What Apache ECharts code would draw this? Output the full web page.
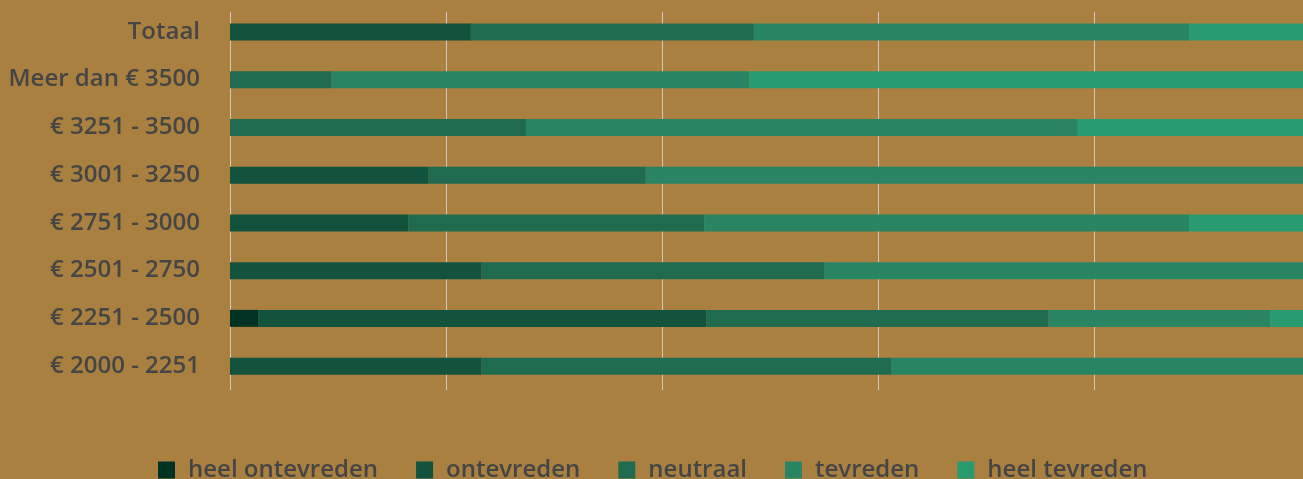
<!DOCTYPE html>
<html>
<head>
<meta charset="utf-8">
<script src="https://cdn.jsdelivr.net/npm/echarts@6/dist/echarts.min.js"></script>
<style>
  html, body { margin: 0; padding: 0; background: #a98040; }
  #chart { width: 1303px; height: 479px; }
</style>
</head>
<body>
<div id="chart"></div>
<script>
// categories, bottom to top (category axis runs upwards)
const categories = [
  '€ 2000 - 2251',
  '€ 2251 - 2500',
  '€ 2501 - 2750',
  '€ 2751 - 3000',
  '€ 3001 - 3250',
  '€ 3251 - 3500',
  'Meer dan € 3500',
  'Totaal',
]

const seriesNames = ['heel ontevreden', 'ontevreden', 'neutraal', 'tevreden', 'heel tevreden']

// percentages per category (same order as categories)
const heelOntevreden = [0, 2.6, 0, 0, 0, 0, 0, 0]
const ontevreden = [23.3, 41.5, 23.3, 16.5, 18.4, 0, 0, 22.3]
const neutraal = [37.9, 31.7, 31.7, 27.4, 20.1, 27.4, 9.4, 26.2]
const tevreden = [38.8, 20.5, 45.0, 44.9, 61.5, 51.1, 38.7, 40.3]
const heelTevreden = [0, 3.7, 0, 11.2, 0, 21.5, 51.9, 11.2]

// the original plot runs slightly past the right edge: 100% falls ~7px outside
const xMin = 0
const xStep = 20
const xVisibleMax = 99.35

const colors = ['#003223', '#13523d', '#206b4f', '#288462', '#2a9b70']

const values = [heelOntevreden, ontevreden, neutraal, tevreden, heelTevreden]

const chart = echarts.init(document.getElementById('chart'))

chart.setOption({
  backgroundColor: '#a98040',
  animation: false,
  color: colors,
  textStyle: { fontFamily: '"Open Sans", sans-serif' },
  grid: [
    // bars
    { left: 230, top: 8, right: 0, height: 382 },
    // vertical grid lines only
    { left: 230, top: 12, right: 0, height: 378 },
  ],
  legend: {
    data: seriesNames,
    left: 153,
    top: 453,
    itemWidth: 17,
    itemHeight: 17,
    itemGap: 38,
    icon: 'rect',
    textStyle: {
      color: '#454545',
      fontSize: 24,
      fontWeight: 600,
      padding: [0, 0, 0, 8],
    },
  },
  xAxis: [
    {
      gridIndex: 0,
      type: 'value',
      min: xMin,
      max: xVisibleMax,
      interval: xStep,
      axisLine: { show: false },
      axisTick: { show: false },
      axisLabel: { show: false },
      splitLine: { show: false },
    },
    {
      gridIndex: 1,
      type: 'value',
      min: xMin,
      max: xVisibleMax,
      interval: xStep,
      axisLine: { show: false },
      axisTick: { show: false },
      axisLabel: { show: false },
      splitLine: { show: true, lineStyle: { color: '#d2cbbd', width: 1 } },
    },
  ],
  yAxis: [
    {
      gridIndex: 0,
      type: 'category',
      data: categories,
      axisLine: { show: false },
      axisTick: { show: false },
      axisLabel: {
        color: '#454545',
        fontSize: 24,
        fontWeight: 600,
        margin: 30,
      },
    },
    {
      gridIndex: 1,
      type: 'category',
      data: categories,
      show: false,
    },
  ],
  series: seriesNames.map((name, i) => ({
    name,
    type: 'bar',
    stack: 'total',
    xAxisIndex: 0,
    yAxisIndex: 0,
    barWidth: 17,
    clip: true,
    z: 3,
    itemStyle: { color: colors[i] },
    data: values[i],
  })),
})
</script>
</body>
</html>
